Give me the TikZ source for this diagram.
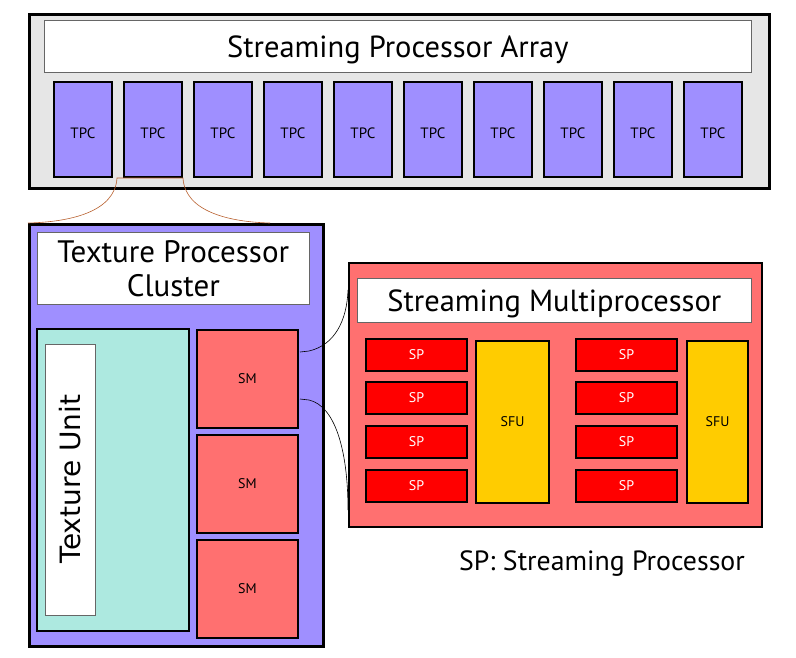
\documentclass[tikz,border=0pt]{standalone}
\usepackage{fontspec}
\setmainfont{PT Sans}
\newfontfamily\tufont{DejaVu Sans}
\begin{document}
\begin{tikzpicture}[x=1pt,y=-1pt,
  outerbox/.style={draw=black,line width=2.5pt,inner sep=0pt,anchor=north west},
  titlebox/.style={draw=black!60,fill=white,line width=0.6pt,inner sep=0pt,anchor=north west},
  tpcbox/.style={draw=black,line width=2pt,fill=tpcpurple,inner sep=0pt,anchor=north west,minimum width=58pt,minimum height=95pt,font=\fontsize{15}{17}\selectfont,text height=17pt,text depth=0pt},
  smbox/.style={draw=black,line width=2pt,fill=smred,inner sep=0pt,anchor=north west,minimum width=101pt,minimum height=98pt,font=\fontsize{14}{16}\selectfont},
  spbox/.style={draw=black,line width=2pt,fill=spred,inner sep=0pt,anchor=north west,minimum width=101pt,minimum height=32pt,text=white,font=\fontsize{14}{16}\selectfont},
  sfubox/.style={draw=black,line width=2pt,fill=sfuyellow,inner sep=0pt,anchor=north west,minimum width=73pt,minimum height=162pt,font=\fontsize{14}{16}\selectfont},
  zoomline/.style={line width=0.6pt}
]
\definecolor{spagray}{HTML}{E6E6E6}
\definecolor{tpcpurple}{HTML}{9F8FFF}
\definecolor{smred}{HTML}{FF7070}
\definecolor{spred}{HTML}{FF0000}
\definecolor{sfuyellow}{HTML}{FFCC00}
\definecolor{texcyan}{HTML}{ADE9E0}
\definecolor{linkbrown}{HTML}{B8602E}
\useasboundingbox (0,0) rectangle (796,657);
% Streaming Processor Array
\node[outerbox,fill=spagray,minimum width=740pt,minimum height=174pt] (spa) at (28,13) {};
\node[titlebox,minimum width=707pt,minimum height=52pt,font=\fontsize{30.5}{34}\selectfont,text depth=0pt] (spatitle) at (44,20) {Streaming Processor Array};
\foreach \i in {0,...,9} {
  \node[tpcbox] (tpc\i) at ({53+70*\i},81) {TPC};
}
% Texture Processor Cluster
\node[outerbox,fill=tpcpurple,minimum width=294pt,minimum height=422pt] (tpcc) at (28,223) {};
\node[titlebox,minimum width=272pt,minimum height=72pt,align=center,font=\fontsize{31}{34}\selectfont] (tpctitle) at (37,232) {Texture Processor\\Cluster};
\node[draw=black,line width=2pt,fill=texcyan,inner sep=0pt,anchor=north west,minimum width=152pt,minimum height=302pt] (tex) at (36,328) {};
\node[titlebox,minimum width=50pt,minimum height=271pt] (texu) at (45,344) {};
\node[rotate=90,font=\tufont\fontsize{28}{30}\selectfont] (texulabel) at (70,479) {Texture Unit};
\node[smbox] (sm1) at (196,329) {SM};
\node[smbox] (sm2) at (196,434) {SM};
\node[smbox] (sm3) at (196,539) {SM};
% Streaming Multiprocessor
\node[outerbox,line width=2pt,fill=smred,minimum width=413pt,minimum height=264pt] (smp) at (348,262) {};
\node[titlebox,minimum width=394pt,minimum height=44pt,font=\fontsize{30.5}{34}\selectfont,text depth=0pt] (smptitle) at (357,278) {Streaming Multiprocessor};
\foreach \j/\x in {0/365,1/575} {
  \foreach \k/\y in {0/338,1/381,2/425,3/469} {
    \node[spbox] (sp\j\k) at (\x,\y) {SP};
  }
}
\node[sfubox] (sfu0) at (475,340) {SFU};
\node[sfubox,minimum width=61pt] (sfu1) at (686,340) {SFU};
\node[font=\fontsize{27.8}{30}\selectfont] (legend) at (602,564) {SP: Streaming Processor};
% zoom connectors
\coordinate (ta) at (117,178);
\coordinate (tb) at (183,178);
\draw[linkbrown,zoomline] (tpcc.north west) .. controls (70,222) and (115,212) .. (ta) -- (tb) .. controls (185,212) and (230,222) .. (270,223);
\coordinate (sa) at (300,352);
\coordinate (sb) at (300,399);
\draw[zoomline] (sa) -- (309,351) .. controls (335,345) and (347,320) .. (348,290);
\draw[zoomline] (sb) -- (309,400) .. controls (335,406) and (348,450) .. (348,510);
\end{tikzpicture}
\end{document}
